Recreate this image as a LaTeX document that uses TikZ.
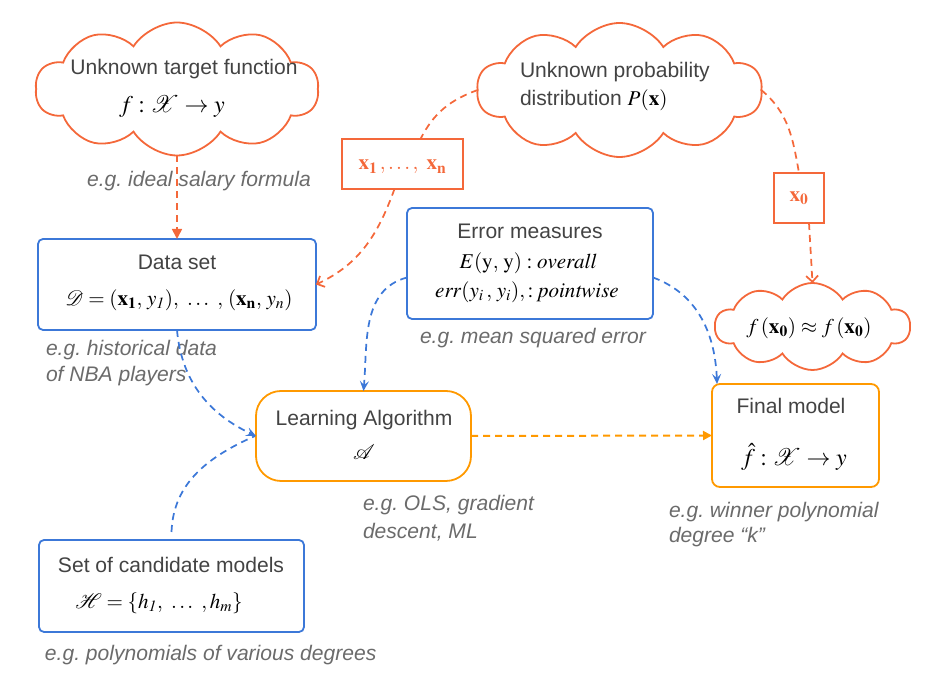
\documentclass[tikz,border=0pt]{standalone}
\usepackage{mathptmx}
\usepackage[no-math]{fontspec}
\setmainfont{Liberation Sans}
\usetikzlibrary{shapes.symbols,arrows.meta,calc}
\definecolor{cloudc}{HTML}{F4683A}
\definecolor{bluec}{HTML}{3C78D8}
\definecolor{orangec}{HTML}{FF9900}
\definecolor{darkc}{HTML}{434343}
\definecolor{grayc}{HTML}{6B6B6B}
\frenchspacing
\tikzset{
 bluebox/.style={rectangle, draw=bluec, line width=1.35pt, rounded corners=3.75pt},
 orangebox/.style={rectangle, draw=orangec, line width=1.35pt},
 xbox/.style={rectangle, draw=cloudc, line width=0.9pt},
 cloudnode/.style={cloud, draw=cloudc, line width=1.35pt, cloud puffs=10, cloud puff arc=115, aspect=2.1},
 lbl/.style={text=darkc},
 bigmath/.style={font=\fontsize{18}{21}\selectfont},
 eg/.style={text=grayc, font=\fontsize{15.8}{19}\selectfont\itshape},
 dsh/.style={dash pattern=on 5.25pt off 3.75pt, line width=1.3pt},
 redline/.style={dsh, draw=cloudc},
 blueline/.style={dsh, draw=bluec, -{Stealth[length=7.5pt, width=6.75pt, inset=3pt]}},
}
\begin{document}
\begin{tikzpicture}[x=0.75pt,y=0.75pt,
  every node/.style={font=\fontsize{15.8}{19}\selectfont, inner sep=0pt, outer sep=0pt}]
\useasboundingbox (0,0) rectangle (926,688);

% clouds
\node[cloudnode, minimum width=212.25pt, minimum height=99.75pt] (c1) at (177,599) {};
\node[lbl] (c1t) at (184,619) {Unknown target function};
\node[bigmath] (c1f) at (172,581) {$f : \mathcal{X} \rightarrow y$};

\node[cloudnode, minimum width=213.75pt, minimum height=100.5pt] (c2) at (619.5,598) {};
\node[lbl, anchor=west] (c2t) at (520,616) {Unknown probability};
\node[lbl, anchor=west] (c2u) at (520,588) {distribution \textcolor{black}{$P(\mathbf{x})$}};

\node[cloudnode, cloud puffs=10, aspect=2.2, minimum width=146.25pt, minimum height=65.25pt] (c3) at (812.5,361.5) {};
\node (c3f) at (809,360) {$f\,(\mathbf{x}_{\mathbf 0}) \approx f\,(\mathbf{x}_{\mathbf 0})$};

% small sample boxes
\node[xbox, minimum width=90.75pt, minimum height=37.5pt] (xb) at (402.5,524) {};
\node[text=cloudc] (xbt) at (402.5,521) {$\mathbf{x}_{\mathbf 1}\,, \ldots,\ \mathbf{x}_{\mathbf n}$};
\node[xbox, minimum width=37.5pt, minimum height=37.5pt] (x0) at (799,490) {};
\node[text=cloudc] (x0t) at (799,490) {$\mathbf{x}_{\mathbf 0}$};

% data set
\node[bluebox, minimum width=208.5pt, minimum height=68.25pt] (ds) at (177,403.5) {};
\node[lbl] (dst) at (177,426) {Data set};
\node (dsf) at (179,388) {$\mathcal{D} = (\mathbf{x}_{\mathbf 1},\, y_{\mathit 1}),\ \ldots\ ,\, (\mathbf{x}_{\mathbf n},\, y_n)$};

% error measures
\node[bluebox, minimum width=184.5pt, minimum height=83.25pt] (err) at (530,424.5) {};
\node[lbl] (errt) at (530,457) {Error measures};
\node (erra) at (528,425) {$E(\mathrm{y},\,\mathrm{y}) : \mathit{overall}$};
\node (errb) at (527,396) {$\mathit{err}(y_i\,,\, y_i), : \mathit{pointwise}$};

% learning algorithm
\node[orangebox, rounded corners=18.75pt, minimum width=161.25pt, minimum height=67.5pt] (la) at (363.5,252) {};
\node[lbl] (lat) at (364,268) {Learning Algorithm};
\node (laf) at (364,236) {$\mathcal{A}$};

% final model
\node[orangebox, rounded corners=6pt, minimum width=125.25pt, minimum height=77.25pt] (fm) at (795.5,252.5) {};
\node[lbl] (fmt) at (791,282) {Final model};
\node[bigmath] (fmf) at (794,231) {$\hat{f} : \mathcal{X} \rightarrow y$};

% candidate models
\node[bluebox, minimum width=198.75pt, minimum height=69pt] (cm) at (171.5,102) {};
\node[lbl] (cmt) at (171,123) {Set of candidate models};
\node (cmf) at (159,85) {$\mathcal{H} = \{h_{\mathit 1},\ \ldots\ , h_m\}$};

% example labels
\node[eg] (eg1) at (199,507) {e.g. ideal salary formula};
\node[eg, anchor=west] (eg2a) at (46,338) {e.g. historical data};
\node[eg, anchor=west] (eg2b) at (46,312) {of NBA players};
\node[eg] (eg3) at (533,350) {e.g. mean squared error};
\node[eg, anchor=west] (eg4a) at (363,183) {e.g. OLS, gradient};
\node[eg, anchor=west] (eg4b) at (363,156) {descent, ML};
\node[eg, anchor=west] (eg5a) at (669,176) {e.g. winner polynomial};
\node[eg, anchor=west] (eg5b) at (669,151) {degree “k”};
\node[eg, anchor=west] (eg6) at (45,33) {e.g. polynomials of various degrees};

% connectors
\draw[redline, -{Triangle[length=7.5pt, width=7.5pt]}] (c1.south) -- (ds.north);
\draw[redline] (c2.west) to[out=200, in=63] ($(xb.north)+(18,0)$);
\draw[redline, -{Straight Barb[length=4.5pt, width=9pt]}] ($(xb.south)+(-8,0)$) to[out=250, in=25] (ds.east);
\draw[redline] (c2.east) to[out=-40, in=100] (x0.north);
\draw[redline, -{Straight Barb[length=4.5pt, width=9pt]}] ($(x0.south)+(10,0)$) -- (c3.north);

\draw[blueline] (ds.south) to[out=-85, in=155] (la.west);
\draw[blueline, -] ($(cm.north)+(0,8)$) to[out=88, in=204] ($(la.west)+(-1,0)$);
\draw[blueline] ($(err.west)+(0,-14)$) to[out=195, in=85] (la.north);
\draw[blueline] ($(err.east)+(0,-14)$) to[out=-20, in=92] ($(fm.north west)+(5,0)$);

\draw[dsh, line width=1.5pt, draw=orangec, -{Triangle[length=6.75pt, width=6.75pt]}] (la.east) -- (fm.west);
\end{tikzpicture}
\end{document}
